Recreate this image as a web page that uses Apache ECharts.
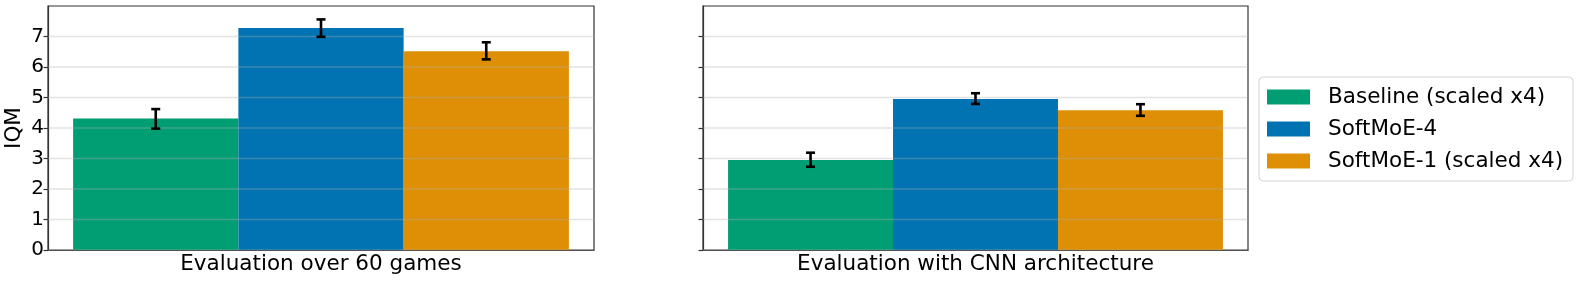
<!DOCTYPE html>
<html>
<head>
<meta charset="utf-8">
<script src="https://cdn.jsdelivr.net/npm/echarts@6/dist/echarts.min.js"></script>
<style>html,body{margin:0;padding:0;background:#fff}#c{width:1578px;height:281px}</style>
</head>
<body>
<div id="c"></div>
<script>
// ---- data ----
const methods = ['Baseline (scaled x4)', 'SoftMoE-4', 'SoftMoE-1 (scaled x4)'];
const panelTitles = ['Evaluation over 60 games', 'Evaluation with CNN architecture'];
const iqm60 = [4.31, 7.28, 6.52];
const lo60 = [3.98, 6.99, 6.25];
const hi60 = [4.62, 7.56, 6.81];
const iqmCnn = [2.95, 4.95, 4.58];
const loCnn = [2.73, 4.79, 4.40];
const hiCnn = [3.19, 5.14, 4.78];
const yTicks = [0, 1, 2, 3, 4, 5, 6, 7];
const yMax = 8;

const colors = ['#029e73', '#0173b2', '#de8f05'];
const FONT = 'DejaVu Sans';
const xMin = -0.652, xMax = 2.652;

const panels = [
  {iqm: iqm60, lo: lo60, hi: hi60},
  {iqm: iqmCnn, lo: loCnn, hi: hiCnn}
];

const grids = [
  {left: 48, top: 6, width: 546, height: 244, show: true, borderColor: '#333', borderWidth: 1.2, backgroundColor: 'transparent', outerBoundsMode: 'none', containLabel: false},
  {left: 703, top: 6, width: 545, height: 244, show: true, borderColor: '#333', borderWidth: 1.2, backgroundColor: 'transparent', outerBoundsMode: 'none', containLabel: false}
];

const xAxes = panelTitles.map((t, i) => ({
  type: 'value', gridIndex: i, min: xMin, max: xMax,
  name: t, nameLocation: 'middle', nameGap: 3,
  nameTextStyle: {fontFamily: FONT, fontSize: 21.5, color: '#000', verticalAlign: 'top'},
  axisLine: {show: true, onZero: false, lineStyle: {color: '#333', width: 1.2}},
  axisTick: {show: false}, axisLabel: {show: false}, splitLine: {show: false}
}));

const yAxes = [0, 1].map(i => ({
  type: 'value', gridIndex: i, min: 0, max: yMax,
  name: i === 0 ? 'IQM' : '', nameLocation: 'middle', nameGap: 23,
  nameTextStyle: {fontFamily: FONT, fontSize: 21.5, color: '#000'},
  axisLine: {show: true, onZero: false, lineStyle: {color: '#333', width: 1.2}},
  axisTick: {show: true, length: 4.5, inside: false, customValues: yTicks, lineStyle: {color: '#333', width: 1.2}},
  axisLabel: {show: i === 0, customValues: yTicks, fontFamily: FONT, fontSize: 20, color: '#000', margin: 4},
  splitLine: {show: false}
}));

const series = [];
panels.forEach((p, pi) => {
  methods.forEach((m, mi) => {
    series.push({
      type: 'custom', name: m, xAxisIndex: pi, yAxisIndex: pi, z: 2,
      itemStyle: {color: colors[mi]},
      data: [[mi, p.iqm[mi]]],
      renderItem: function (params, api) {
        const x = api.value(0), y = api.value(1);
        const a = api.coord([x - 0.5, y]);
        const b = api.coord([x + 0.5, 0]);
        return {type: 'rect', shape: {x: a[0], y: a[1], width: b[0] - a[0], height: b[1] - a[1]},
          style: {fill: colors[mi]}};
      }
    });
  });
  // grid lines drawn over the bars
  series.push({
    type: 'custom', name: 'gridlines', xAxisIndex: pi, yAxisIndex: pi, z: 5, silent: true,
    data: yTicks.map(v => [v]),
    renderItem: function (params, api) {
      const v = api.value(0);
      const a = api.coord([xMin, v]);
      const b = api.coord([xMax, v]);
      return {type: 'line', shape: {x1: a[0], y1: a[1], x2: b[0], y2: b[1]},
        style: {stroke: 'rgba(176,176,176,0.35)', lineWidth: 1.5}};
    }
  });
  // error bars
  series.push({
    type: 'custom', name: 'errorbars', xAxisIndex: pi, yAxisIndex: pi, z: 6, silent: true,
    data: methods.map((m, mi) => [mi, p.lo[mi], p.hi[mi]]),
    renderItem: function (params, api) {
      const x = api.value(0);
      const lo = api.coord([x, api.value(1)]);
      const hi = api.coord([x, api.value(2)]);
      const cap = 4.5;
      const st = {stroke: '#000', lineWidth: 2.6};
      return {type: 'group', children: [
        {type: 'line', shape: {x1: lo[0], y1: lo[1], x2: hi[0], y2: hi[1]}, style: st},
        {type: 'line', shape: {x1: lo[0] - cap, y1: lo[1], x2: lo[0] + cap, y2: lo[1]}, style: st},
        {type: 'line', shape: {x1: hi[0] - cap, y1: hi[1], x2: hi[0] + cap, y2: hi[1]}, style: st}
      ]};
    }
  });
});

const chart = echarts.init(document.getElementById('c'), null, {renderer: 'canvas'});
chart.setOption({
  animation: false,
  grid: grids,
  xAxis: xAxes,
  yAxis: yAxes,
  legend: {
    data: methods.map((m, i) => ({name: m, icon: 'rect', itemStyle: {color: colors[i]}})),
    orient: 'vertical', left: 1259, top: 77,
    itemWidth: 43, itemHeight: 15, itemGap: 10,
    padding: [9, 10, 9, 8],
    borderColor: '#d5d5d5', borderWidth: 1, borderRadius: 4, backgroundColor: '#fff',
    textStyle: {fontFamily: FONT, fontSize: 21.5, color: '#000', padding: [0, 0, 0, 13]},
    selectedMode: false
  },
  series: series
});
</script>
</body>
</html>
